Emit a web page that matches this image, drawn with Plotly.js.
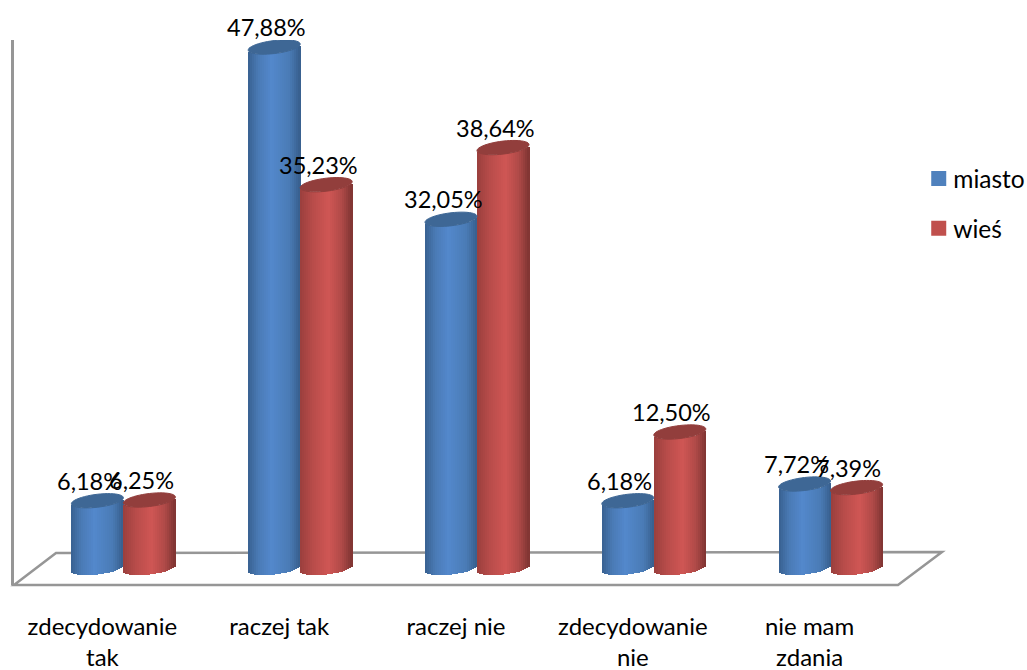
<!DOCTYPE html>
<html>
<head>
<meta charset="utf-8">
<script src="https://cdn.plot.ly/plotly-3.0.1.min.js"></script>
<style>
html,body{margin:0;padding:0;background:#fff}
#chart{width:1027px;height:670px}
.bars path{shape-rendering:crispEdges}
.legendpoints path{transform:translate(25.5px,0) scale(1.25)}
</style>
</head>
<body>
<div id="chart"></div>
<script>
// ---- data ----
const categories = ["zdecydowanie<br>tak", "raczej tak", "raczej nie", "zdecydowanie<br>nie", "nie mam<br>zdania"];
const miasto = [6.18, 47.88, 32.05, 6.18, 7.72];
const wies = [6.25, 35.23, 38.64, 12.50, 7.39];
const seriesNames = ["miasto", "wieś"];

// ---- layout frame, in page pixels ----
const W = 1027, H = 670;
const plotL = 14, plotR = 942, plotT = 40, plotB = 585;
const zeroPx = 568, pxPerUnit = 10.88;      // y scale
const firstCenterPx = 123.4, pxPerCat = 176.8; // x scale
const depthPx = 21;                         // tick labels sit on the front edge of the floor
const barPx = 52, capB = 6.5, capTilt = 3;
const STRIPS = 26;
const FONT = "Lato, sans-serif";

const ux = barPx / pxPerCat;
const uy = 1 / pxPerUnit;
const xRange = [(plotL - firstCenterPx) / pxPerCat, (plotR - firstCenterPx) / pxPerCat];
const yRange = [(zeroPx - plotB) / pxPerUnit, (zeroPx - plotT) / pxPerUnit];

const ramps = {
  blue: [[0, [56, 96, 145]], [0.2, [74, 122, 181]], [0.45, [83, 136, 204]], [0.8, [74, 123, 181]], [1, [55, 94, 140]]],
  red:  [[0, [154, 63, 61]], [0.25, [184, 76, 74]], [0.55, [207, 86, 84]], [0.8, [176, 74, 72]], [1, [126, 52, 50]]]
};
function ramp(stops, t) {
  for (let i = 1; i < stops.length; i++) {
    if (t <= stops[i][0]) {
      const [a, ca] = stops[i - 1], [b, cb] = stops[i];
      const f = (t - a) / (b - a);
      const c = ca.map((v, k) => Math.round(v + (cb[k] - v) * f));
      return `rgb(${c.join(",")})`;
    }
  }
  return `rgb(${stops[stops.length - 1][1].join(",")})`;
}

const idx = categories.map((_, i) => i);
const seriesDefs = [
  {name: seriesNames[0], vals: miasto, shift: -ux / 2, stops: ramps.blue, base: "#4f81bd", cap: "#3e6795"},
  {name: seriesNames[1], vals: wies, shift: ux / 2, stops: ramps.red, base: "#c0504d", cap: "#923e3c"}
];

const traces = [], shapes = [], annotations = [];

// floor and wall of the 3-D frame
const px = x => (x - plotL) / (plotR - plotL);
const py = y => (plotB - y) / (plotB - plotT);
shapes.push({
  type: "path", xref: "paper", yref: "paper", layer: "below",
  path: `M${px(14)} ${py(585)} L${px(898)} ${py(585)} L${px(942)} ${py(552)} L${px(56)} ${py(553)} Z`,
  line: {color: "#969696", width: 2.5}
});

seriesDefs.forEach(s => {
  // the series itself (gives the legend entry)
  traces.push({
    type: "bar", name: s.name, legendgroup: s.name, x: idx, y: s.vals, base: 0,
    width: ux * 0.2, offset: s.shift - ux * 0.1,
    marker: {color: s.base, line: {width: 0}}, hoverinfo: "skip"
  });
  // shaded strips that give the cylinder body
  for (let k = 0; k < STRIPS; k++) {
    const t = (k + 0.5) / STRIPS, u = 2 * t - 1;
    const off = (-capB * Math.sqrt(1 - u * u) + capTilt * u) * uy;
    traces.push({
      type: "bar", showlegend: false, x: idx, y: s.vals, base: off,
      width: ux / STRIPS * 1.25, offset: s.shift - ux / 2 + ux * k / STRIPS,
      marker: {color: ramp(s.stops, t), line: {width: 0}}, hoverinfo: "skip"
    });
  }
  // top caps and value labels
  s.vals.forEach((v, i) => {
    const cx = i + s.shift;
    let path = "";
    for (let j = 0; j < 48; j++) {
      const a = 2 * Math.PI * j / 48;
      const xx = cx + ux / 2 * Math.cos(a);
      const yy = v + (capB * Math.sin(a) + capTilt * Math.cos(a)) * uy;
      path += (j ? "L" : "M") + xx.toFixed(4) + " " + yy.toFixed(4) + " ";
    }
    shapes.push({type: "path", xref: "x", yref: "y", layer: "above", path: path + "Z",
      fillcolor: s.cap, line: {color: s.cap, width: 1}});
    annotations.push({
      x: cx, y: v, xref: "x", yref: "y", text: v.toFixed(2).replace(".", ",") + "%",
      showarrow: false, xanchor: "center", yanchor: "middle", xshift: -8, yshift: 20,
      font: {family: FONT, size: 23.5, color: "#000"}
    });
  });
});

const layout = {
  width: W, height: H, showlegend: true, barmode: "overlay",
  paper_bgcolor: "#fff", plot_bgcolor: "#fff",
  margin: {l: plotL, r: W - plotR, t: plotT, b: H - plotB, pad: 0, autoexpand: false},
  font: {family: FONT, size: 24, color: "#000"},
  xaxis: {
    type: "linear", range: xRange, showgrid: false, zeroline: false, showline: false, fixedrange: true,
    tickmode: "array", tickvals: idx.map(i => i - depthPx / pxPerCat), ticktext: categories,
    ticks: "outside", ticklen: 20, tickcolor: "rgba(0,0,0,0)", tickangle: 0
  },
  yaxis: {
    range: yRange, showgrid: false, zeroline: false, showticklabels: false, ticks: "", fixedrange: true,
    showline: true, linecolor: "#969696", linewidth: 2.5
  },
  legend: {
    x: 0.969, xanchor: "left", y: 0.787, yanchor: "top", tracegroupgap: 15,
    font: {family: FONT, size: 24.5, color: "#000"}, bgcolor: "rgba(0,0,0,0)",
    itemclick: false, itemdoubleclick: false
  },
  shapes, annotations
};
Plotly.newPlot("chart", traces, layout, {displayModeBar: false});
</script>
</body>
</html>
